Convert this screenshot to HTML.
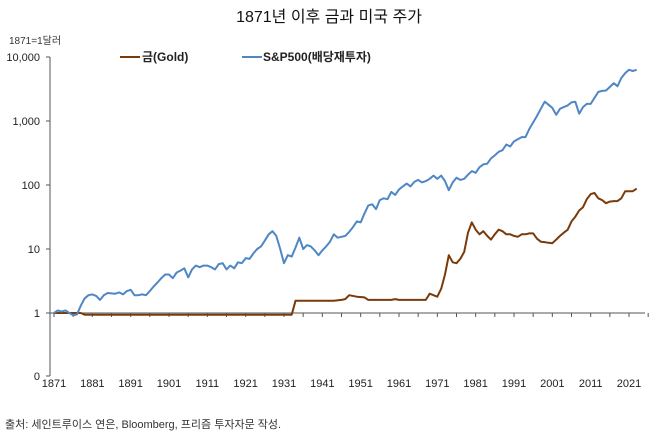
<!DOCTYPE html>
<html><head><meta charset="utf-8"><style>
body{margin:0;background:#fff;width:658px;height:436px;overflow:hidden;font-family:"Liberation Sans","Noto Sans CJK KR",sans-serif}
</style></head><body>
<svg id="s" width="658" height="436" xmlns="http://www.w3.org/2000/svg" font-family="Liberation Sans, Noto Sans CJK KR, sans-serif">
<text x="329" y="22" text-anchor="middle" font-size="16" fill="#111">1871년 이후 금과 미국 주가</text>
<text x="9" y="44" font-size="10" fill="#333">1871=1달러</text>
<g font-size="11" fill="#222" text-anchor="end">
<text x="40" y="61">10,000</text><text x="40" y="125">1,000</text><text x="40" y="189">100</text>
<text x="40" y="253">10</text><text x="40" y="317">1</text><text x="40" y="380">0</text>
</g>
<line x1="120" y1="57" x2="140" y2="57" stroke="#7a3a0a" stroke-width="2"/>
<text x="142" y="61" font-size="12" font-weight="bold" fill="#222">금(Gold)</text>
<line x1="242" y1="57" x2="262" y2="57" stroke="#4f86c6" stroke-width="2"/>
<text x="263" y="61" font-size="12" font-weight="bold" fill="#222">S&amp;P500(배당재투자)</text>
<text x="5" y="428" font-size="11" fill="#333">출처: 세인트루이스 연은, Bloomberg, 프리즘 투자자문 작성.</text>
<g id="ax" stroke="#555" stroke-width="1"></g>
<g id="xl" font-size="11" fill="#222" text-anchor="middle"></g>
</svg>
<script>
var s=document.getElementById('s'),ax=document.getElementById('ax'),xl=document.getElementById('xl');
function X(y){return 54+(y-1871)*575/150}
function Y(v){return 313-64*Math.log10(v)}
var h='<line x1="50" y1="57" x2="50" y2="376"/><line x1="50" y1="313" x2="645" y2="313"/>';
[57,121,185,249,313,376].forEach(function(y){h+='<line x1="46" y1="'+y+'" x2="50" y2="'+y+'"/>'});
for(var yr=1871;yr<=2026;yr+=5){var x=X(yr);h+='<line x1="'+x+'" y1="313" x2="'+x+'" y2="317"/>'}
ax.innerHTML=h;
var t='';for(var yr=1871;yr<=2021;yr+=10)t+='<text x="'+X(yr)+'" y="387">'+yr+'</text>';xl.innerHTML=t;
var sp=[[1871,1],[1872,1.1],[1873,1.05],[1874,1.1],[1875,1.0],[1876,0.92],[1877,0.95],[1878,1.3],[1879,1.7],[1880,1.9],[1881,1.95],[1882,1.85],[1883,1.6],[1884,1.9],[1885,2.05],[1887,2],[1888,2.1],[1889,1.95],[1890,2.2],[1891,2.3],[1892,1.9],[1893,1.9],[1894,1.95],[1895,1.9],[1896,2.2],[1897,2.6],[1898,3],[1899,3.5],[1900,4],[1901,4],[1902,3.5],[1903,4.3],[1904,4.6],[1905,5],[1906,3.6],[1907,4.8],[1908,5.5],[1909,5.2],[1910,5.5],[1911,5.5],[1912,5.2],[1913,4.8],[1914,5.8],[1915,6],[1916,4.8],[1917,5.5],[1918,5],[1919,6.2],[1920,6],[1921,7.2],[1922,7],[1923,8.5],[1924,10],[1925,11],[1926,13.5],[1927,17],[1928,19],[1929,16],[1930,10],[1931,6],[1932,8],[1933,7.6],[1934,10.5],[1935,15],[1936,10],[1937,11.5],[1938,11],[1939,9.5],[1940,8],[1941,9.5],[1942,11],[1943,13],[1944,17],[1945,15],[1946,15.5],[1947,16],[1948,18.5],[1949,22],[1950,27],[1951,26],[1952,36],[1953,48],[1954,50],[1955,42],[1956,58],[1957,62],[1958,60],[1959,78],[1960,70],[1961,85],[1962,95],[1963,105],[1964,95],[1965,112],[1966,120],[1967,110],[1968,115],[1969,125],[1970,140],[1971,125],[1972,140],[1973,115],[1974,83],[1975,110],[1976,130],[1977,120],[1978,125],[1979,145],[1980,165],[1981,155],[1982,190],[1983,210],[1984,215],[1985,260],[1986,290],[1987,330],[1988,350],[1989,430],[1990,400],[1991,480],[1992,520],[1993,560],[1994,560],[1995,750],[1996,950],[1997,1200],[1998,1550],[1999,2000],[2000,1800],[2001,1600],[2002,1250],[2003,1550],[2004,1650],[2005,1750],[2006,1950],[2007,2000],[2008,1300],[2009,1650],[2010,1850],[2011,1850],[2012,2300],[2013,2850],[2014,2950],[2015,3000],[2016,3400],[2017,3900],[2018,3500],[2019,4700],[2020,5600],[2021,6300],[2022,6050],[2023,6300]];
var gd=[[1871,1],[1878,1],[1879,0.94],[1933,0.94],[1934,1.55],[1944,1.55],[1946,1.6],[1947,1.65],[1948,1.9],[1950,1.8],[1952,1.75],[1953,1.6],[1959,1.6],[1960,1.65],[1961,1.6],[1968,1.6],[1969,2.0],[1971,1.8],[1972,2.4],[1973,4],[1974,8],[1975,6.2],[1976,6],[1977,7],[1978,9],[1979,18],[1980,26],[1981,20],[1982,17],[1983,19],[1984,16],[1985,14],[1986,17],[1987,20],[1988,19],[1989,17],[1990,17],[1991,16],[1992,15.5],[1993,17],[1994,17],[1995,17.5],[1996,17.5],[1997,14.5],[1998,13],[1999,12.8],[2000,12.5],[2001,12.3],[2002,14],[2003,16],[2004,18],[2005,20],[2006,27],[2007,32],[2008,40],[2009,45],[2010,60],[2011,72],[2012,75],[2013,62],[2014,58],[2015,52],[2016,55],[2017,56],[2018,56],[2019,62],[2020,80],[2021,80],[2022,80],[2023,88]];
function path(d,c){var p=d.map(function(a,i){return (i?'L':'M')+X(a[0]).toFixed(1)+' '+Y(a[1]).toFixed(1)}).join('');
var e=document.createElementNS('http://www.w3.org/2000/svg','path');e.setAttribute('d',p);e.setAttribute('fill','none');e.setAttribute('stroke',c);e.setAttribute('stroke-width','2');e.setAttribute('stroke-linejoin','round');s.appendChild(e)}
path(gd,'#7a3a0a');path(sp,'#4f86c6');
</script>
</body></html>
